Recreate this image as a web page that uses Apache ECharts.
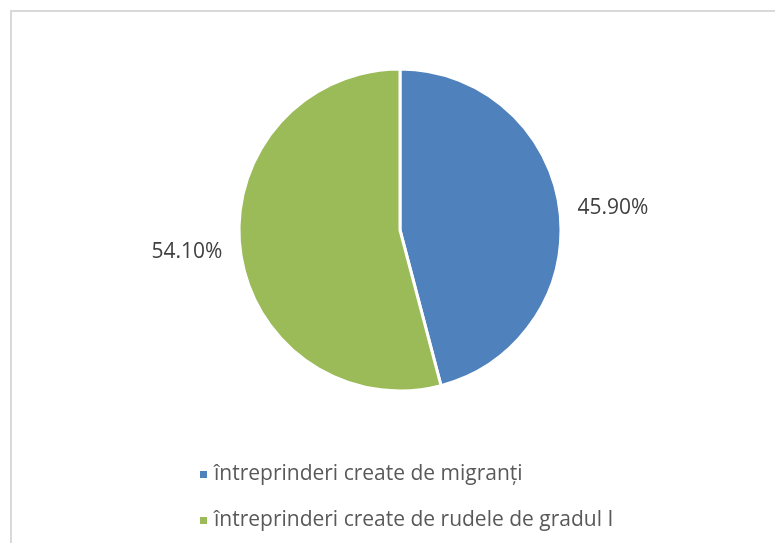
<!DOCTYPE html>
<html>
<head>
<meta charset="utf-8">
<script src="https://cdn.jsdelivr.net/npm/echarts@6/dist/echarts.min.js"></script>
<style>
  html, body { margin: 0; padding: 0; background: #fff; }
  #chart { width: 775px; height: 543px; }
</style>
</head>
<body>
<div id="chart"></div>
<script>
const categories = [
  "întreprinderi create de migranți",
  "întreprinderi create de rudele de gradul I"
];
const values = [45.9, 54.1];
const colors = ["#4f81bd", "#9bbb59"];

const chart = echarts.init(document.getElementById("chart"));

const option = {
  animation: false,
  color: colors,
  textStyle: { fontFamily: "'Open Sans', sans-serif" },
  graphic: [
    {
      type: "rect",
      shape: { x: 11, y: 11, width: 900, height: 700 },
      style: { fill: "none", stroke: "#d9d9d9", lineWidth: 2 },
      silent: true
    }
  ],
  legend: {
    orient: "vertical",
    left: 193,
    top: 459,
    itemWidth: 9,
    itemHeight: 9,
    itemGap: 25,
    icon: "rect",
    textStyle: { fontSize: 21, color: "#595959", padding: [0, 0, 0, 1] },
    data: categories
  },
  series: [
    {
      type: "pie",
      center: [400, 230],
      radius: 161,
      startAngle: 90,
      clockwise: true,
      itemStyle: { borderColor: "#fff", borderWidth: 3 },
      label: {
        show: true,
        position: "outside",
        formatter: (p) => p.value.toFixed(2) + "%",
        fontSize: 21,
        color: "#404040",
        distanceToLabelLine: 5
      },
      labelLine: { show: false, length: 13, length2: 0 },
      data: categories.map((name, i) => ({ name: name, value: values[i] }))
    }
  ]
};

chart.setOption(option);
</script>
</body>
</html>
